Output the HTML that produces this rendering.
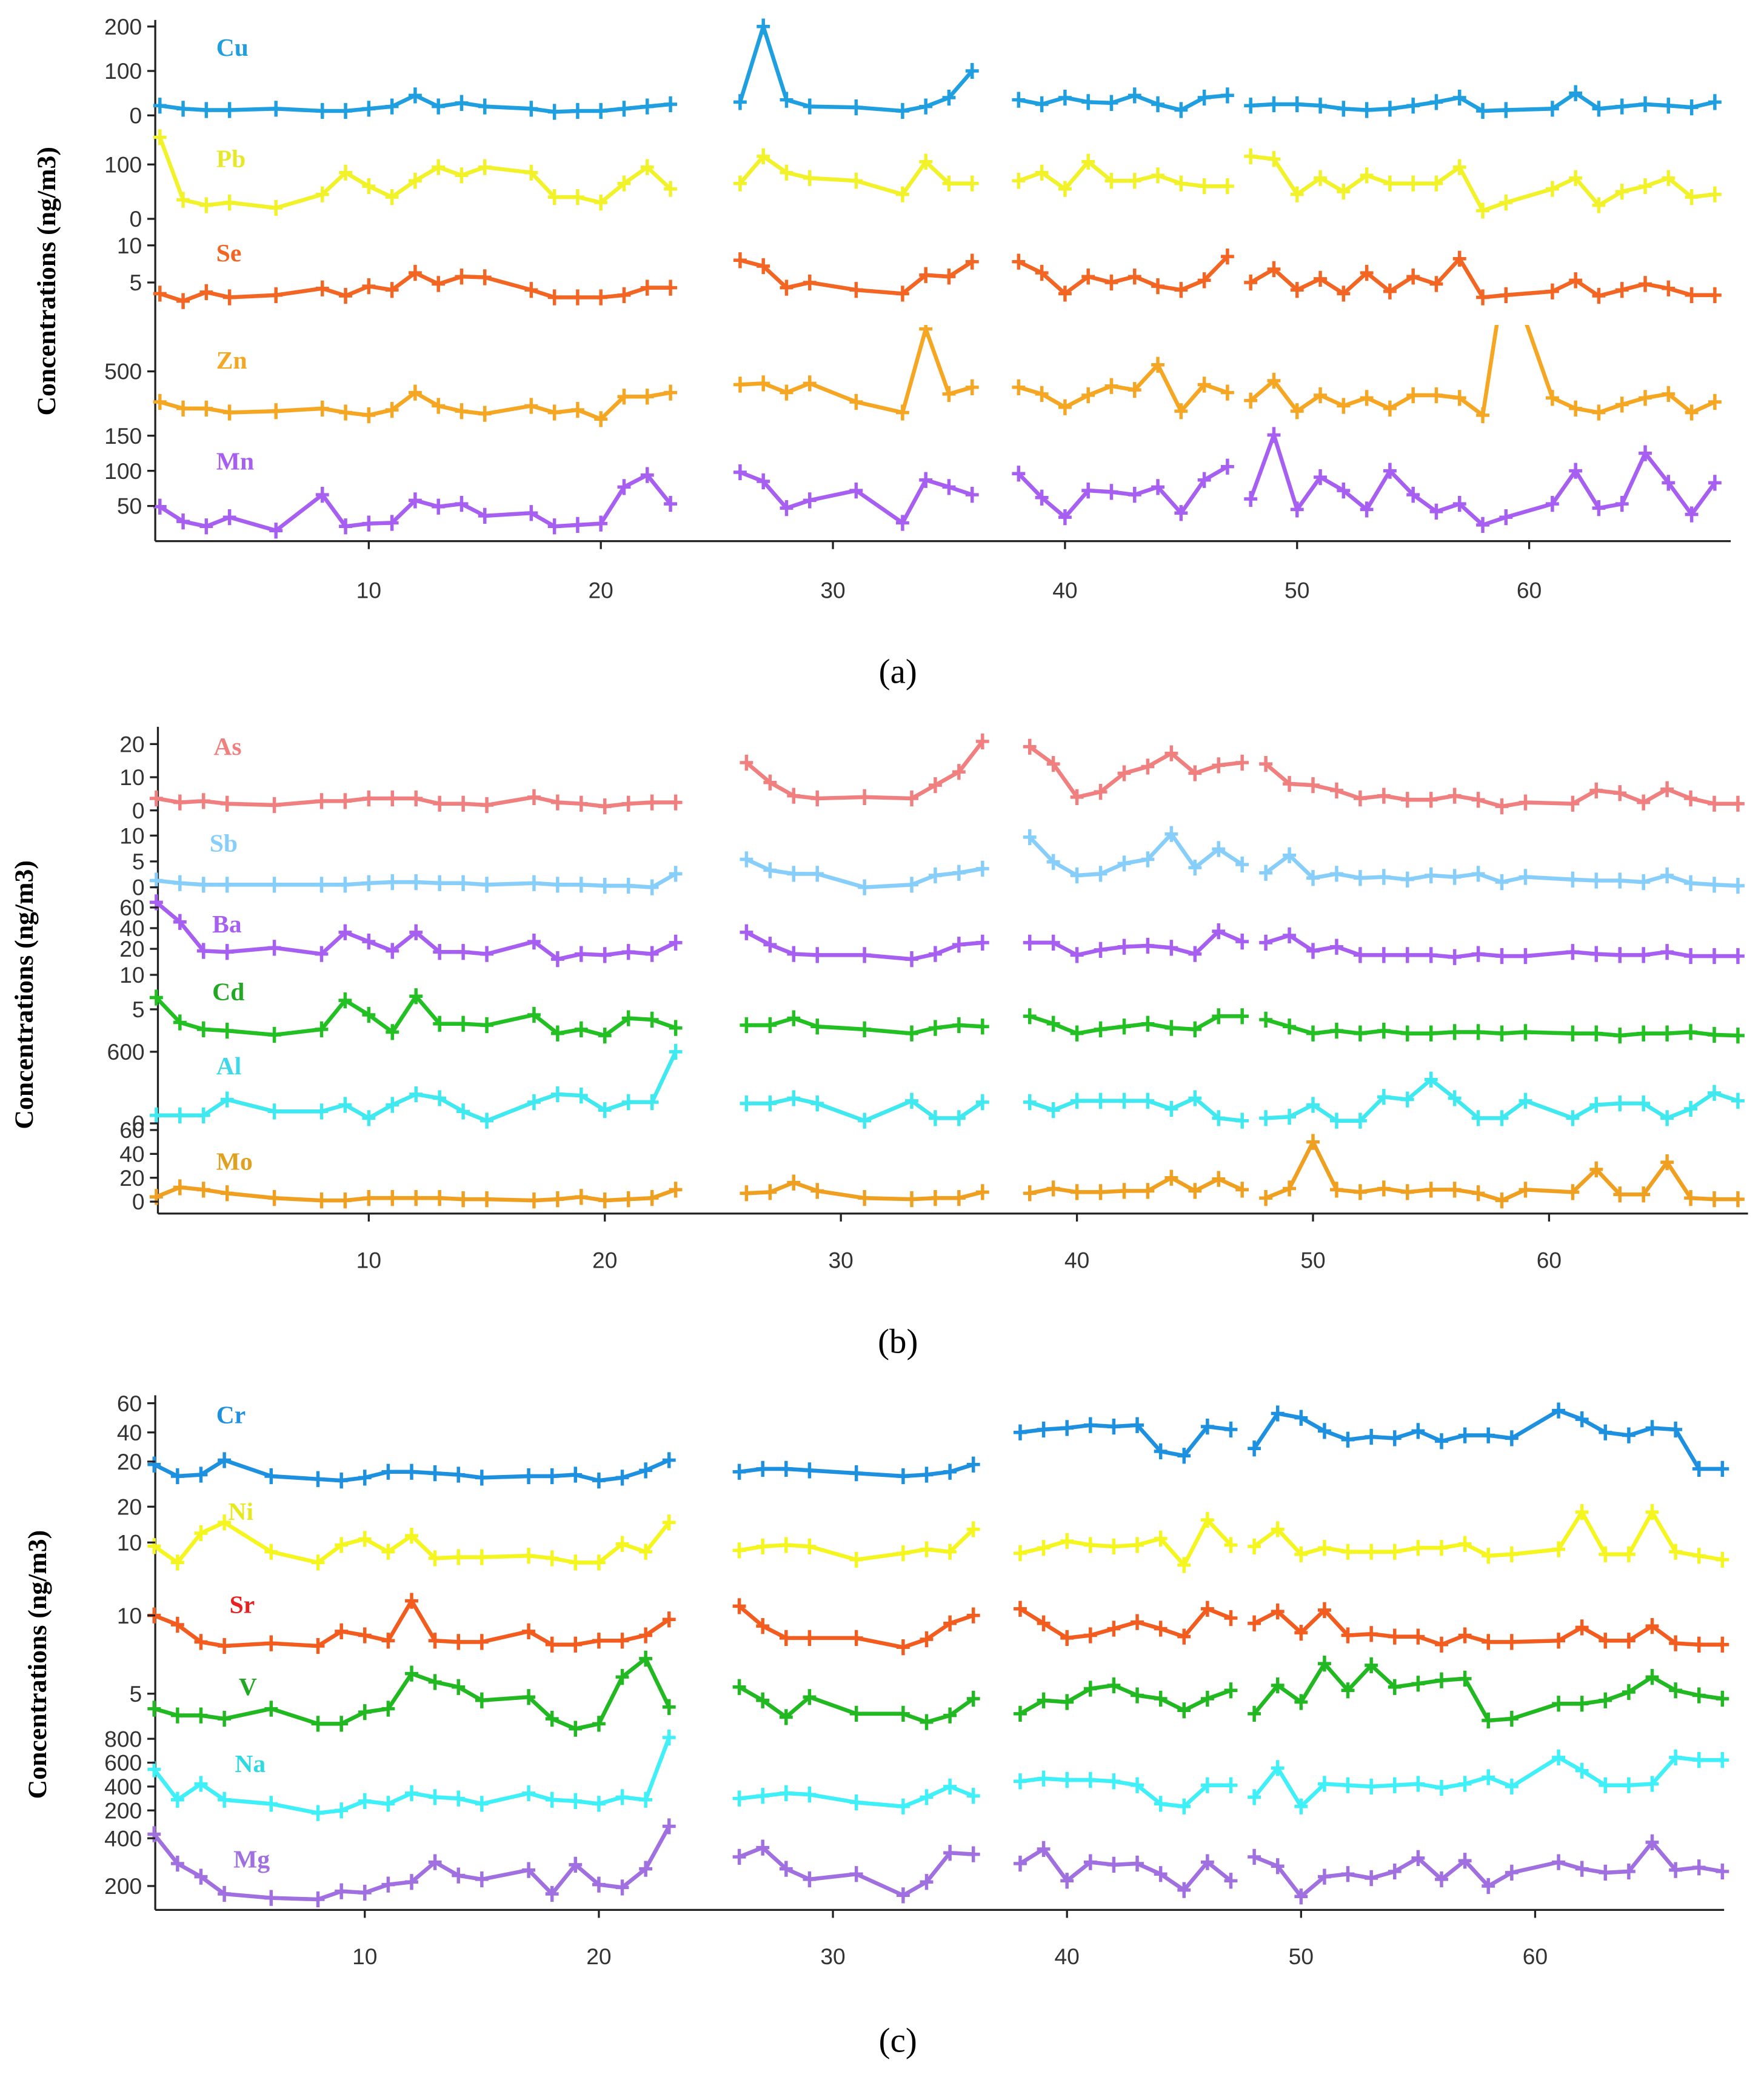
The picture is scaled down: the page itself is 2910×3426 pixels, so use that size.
<!DOCTYPE html>
<html><head><meta charset="utf-8"><style>
html,body{margin:0;padding:0;background:#fff}
svg{display:block}
text{font-family:"Liberation Sans",sans-serif}
.lab{font-family:"Liberation Serif",serif;font-weight:bold;font-size:19px}
.tk{font-size:17px;fill:#333}
.ttl{font-family:"Liberation Serif",serif;font-weight:bold;font-size:20px;fill:#000}
.cap{font-family:"Liberation Serif",serif;font-size:26px;fill:#000}
</style></head><body>
<svg id="chart" xmlns="http://www.w3.org/2000/svg" width="2910" height="3426" viewBox="0 0 1330 1566">
<defs><clipPath id="znclip"><rect x="0" y="245" width="1330" height="200"/></clipPath></defs>
<g id="root"></g>
</svg>
<script>
const days=[1,2,3,4,6,8,9,10,11,12,13,14,15,17,18,19,20,21,22,23, 26,27,28,29,31,33,34,35,36, 38,39,40,41,42,43,44,45,46,47, 48,49,50,51,52,53,54,55,56,57,58,59,61,62,63,64,65,66,67,68];
const segmentStarts=[1,26,38,48];
const xTicks=[10,20,30,40,50,60];
// panel a
const cu=[22,15,12,12,15,10,10,15,20,45,20,28,20,15,8,10,10,15,20,25, 30,200,35,20,18,10,20,40,100, 35,25,40,30,28,45,25,12,40,45, 22,25,25,22,15,12,15,22,30,40,10,12,15,50,15,20,25,22,18,30];
const pb=[150,35,25,30,20,45,85,60,40,70,95,80,95,85,40,40,30,65,95,55, 65,115,85,75,70,45,105,65,65, 70,85,55,105,70,70,80,65,60,60, 115,110,45,75,50,80,65,65,65,95,15,30,55,75,25,50,60,75,40,45];
const se=[3.5,2.5,3.7,3,3.3,4.2,3.2,4.5,4,6.3,4.8,5.8,5.7,4,3,3,3,3.3,4.3,4.3, 8,7.2,4.3,5,4,3.5,6,5.8,7.8, 7.8,6.3,3.5,5.8,5,5.8,4.5,4,5.3,8.5, 5,6.8,4,5.5,3.5,6.3,3.8,5.8,4.8,8.2,3,3.3,3.8,5.3,3.2,4,4.8,4.2,3.3,3.3];
const zn=[212,150,150,112,125,150,112,87,137,300,175,125,100,175,112,137,50,262,262,300, 375,387,300,387,212,112,900,287,350, 350,287,162,275,362,325,562,125,375,300, 225,412,125,275,175,250,150,275,275,250,87,1500,250,150,112,187,250,287,112,212];
const mn=[49,28,21,34,15,66,21,25,26,58,49,53,36,40,21,23,25,77,94,53, 98,85,47,58,72,26,87,77,66, 96,62,34,72,70,66,77,40,87,106, 60,151,45,91,72,45,100,66,42,53,23,34,53,100,47,53,125,83,38,83];
// panel b
const as=[3.6,2.4,2.8,2,1.6,2.8,2.8,3.6,3.6,3.6,2,2,1.6,4,2.4,2,1.2,2,2.4,2.4, 14.4,8.4,4.4,3.6,4,3.6,7.6,11.6,20.8, 19.2,14,4,5.6,11.2,13.2,17.2,11.2,13.6,14.4, 14,8,7.6,6,3.6,4.4,3.2,3.2,4.4,3.2,1.2,2.4,2,6,5.2,2.4,6.4,3.6,2,2];
const sb=[1.3,0.8,0.5,0.5,0.5,0.5,0.5,0.8,1,1,0.8,0.8,0.5,0.8,0.5,0.5,0.3,0.3,0,2.6, 5.4,3.3,2.6,2.6,0,0.5,2.3,2.8,3.6, 9.7,4.9,2.3,2.6,4.6,5.4,10.3,3.8,7.4,4.4, 2.8,6.2,1.8,2.6,1.8,2,1.5,2.3,2,2.6,1,2,1.5,1.3,1.3,1,2.3,0.8,0.5,0.3];
const ba=[65,46,18,17,21,15,36,27,18,36,17,17,15,27,10,15,14,17,15,26, 36,24,15,14,14,10,15,24,26, 26,26,14,19,22,23,21,15,37,27, 26,33,18,22,14,14,14,14,12,15,13,13,17,15,14,14,17,13,13,13];
const cd=[6.7,3.1,2.1,1.9,1.3,2.1,6.3,4.2,1.7,6.9,2.9,2.9,2.7,4.2,1.5,2.1,1.2,3.7,3.5,2.3, 2.7,2.7,3.7,2.5,2.1,1.5,2.3,2.7,2.5, 4,2.9,1.5,2.1,2.5,2.9,2.3,2.1,4,4, 3.5,2.5,1.5,1.9,1.5,1.9,1.5,1.5,1.7,1.7,1.5,1.7,1.5,1.5,1.2,1.5,1.5,1.7,1.3,1.2];
const al=[67,67,67,200,100,100,155,44,155,244,211,100,22,178,244,233,111,178,178,600, 167,167,211,167,22,189,44,44,178, 178,111,189,189,189,189,122,211,44,22, 44,55,155,22,22,222,200,367,211,44,44,189,44,155,167,167,44,122,255,189];
const mo=[4,12,10,7,3,1,1,3,3,3,3,2,2,1,2,4,1,2,3,10, 7,8,16,9,3,2,3,3,8, 7,11,8,8,9,9,20,9,19,10, 3,11,50,10,8,11,8,10,10,7,1,10,8,27,6,6,33,3,2,2];
// panel c
const cr=[18,10,11,21,10,8,7,9,13,13,12,11,9,10,10,11,7,9,14,21, 13,15,15,14,12,10,11,13,18, 40,42,43,45,44,45,27,24,44,42, 29,53,50,41,35,37,36,41,34,38,38,36,55,49,40,38,43,42,15,15];
const ni=[9,4.4,12.6,15.6,7.4,4.4,9.3,11,7.4,11.9,5.6,5.9,5.9,6.3,5.6,4.4,4.4,9.6,7.4,15.6, 7.8,8.9,9.3,8.9,5.2,7,8.1,7.4,13.7, 7,8.5,10.4,9.3,8.9,9.3,11.1,3.7,16.3,9.3, 8.9,13.7,6.7,8.5,7.4,7.4,7.4,8.5,8.5,9.6,6.3,6.7,8.1,18.5,6.7,6.7,18.5,7.4,6.3,5.2];
const sr=[10,8.25,5,4.25,4.75,4.25,7,6.25,5.25,12.75,5.25,5,5,7,4.5,4.5,5.25,5.25,6.25,9.25, 11.75,8,5.75,5.75,5.75,4,5.5,8.5,10, 11.25,8.5,5.75,6.25,7.5,8.75,7.5,6,11.25,9.5, 8.5,10.75,6.75,11,6.25,6.5,6,6,4.5,6.25,5,5,5.25,7.75,5.25,5.25,8,4.75,4.5,4.5];
const v=[4.1,3.7,3.7,3.5,4.1,3.2,3.2,3.9,4.1,6.2,5.7,5.4,4.6,4.8,3.5,2.9,3.2,6,7.1,4.2, 5.4,4.6,3.6,4.8,3.8,3.8,3.3,3.7,4.7, 3.8,4.6,4.5,5.3,5.5,4.9,4.7,4,4.7,5.2, 3.8,5.5,4.5,6.8,5.2,6.7,5.4,5.6,5.8,5.9,3.4,3.5,4.4,4.4,4.6,5.1,6,5.2,4.9,4.7];
const na=[544,289,422,289,255,178,200,278,255,344,311,300,255,344,289,278,255,311,289,811, 300,322,344,333,267,233,311,400,322, 444,467,455,455,444,411,255,233,411,411, 311,555,233,422,411,400,411,422,389,422,478,400,644,533,411,411,422,644,622,622];
const mg=[417,294,239,167,150,144,178,172,206,217,300,244,228,267,167,289,206,194,272,450, 322,361,272,228,250,161,217,339,333, 294,355,222,300,289,294,250,183,300,222, 322,283,156,239,250,233,261,317,228,306,200,256,300,272,256,261,383,267,278,261];
// tick labels
const cuTicks=[0,100,200], pbTicks=[0,100], seTicks=[5,10], znTicks=[500], mnTicks=[50,100,150];
const asTicks=[0,10,20], sbTicks=[0,5,10], baTicks=[20,40,60], cdTicks=[5,10], alTicks=[0,600], moTicks=[0,20,40,60];
const crTicks=[20,40,60], niTicks=[10,20], srTicks=[10], vTicks=[5], naTicks=[200,400,600,800], mgTicks=[200,400];

const NS="http://www.w3.org/2000/svg";
const root=document.getElementById('root');
function mk(tag,attrs,parent){const e=document.createElementNS(NS,tag);for(const k in attrs)e.setAttribute(k,attrs[k]);(parent||root).appendChild(e);return e;}

const panels=[
 {id:'a',x10:278,dx:17.5,xAxisY:408,top:15,axisX:117,xEnd:1305,titleX:37,titleY:212,cap:'(a)',capY:515,tickLabY:451,series:[
  {n:'Cu',d:cu,t:cuTicks,y0:87,k:0.335,c:'#1f9fe0',lc:'#1f9fe0',lx:163,ly:42},
  {n:'Pb',d:pb,t:pbTicks,y0:165,k:0.41,c:'#f2f22a',lc:'#e8e82a',lx:163,ly:126},
  {n:'Se',d:se,t:seTicks,y0:241,k:5.6,c:'#f26522',lc:'#f26522',lx:163,ly:197},
  {n:'Zn',d:zn,t:znTicks,y0:320,k:0.08,c:'#f5a623',lc:'#f5a623',lx:163,ly:278,clip:true},
  {n:'Mn',d:mn,t:mnTicks,y0:408,k:0.53,c:'#a65ff0',lc:'#a65ff0',lx:163,ly:354}]},
 {id:'b',x10:278,dx:17.8,xAxisY:915,top:548,axisX:119,xEnd:1318,titleX:20,titleY:750,cap:'(b)',capY:1020,tickLabY:956,series:[
  {n:'As',d:as,t:asTicks,y0:611,k:2.5,c:'#f08080',lc:'#f08080',lx:161,ly:569},
  {n:'Sb',d:sb,t:sbTicks,y0:669,k:3.9,c:'#87cefa',lc:'#87cefa',lx:158,ly:642},
  {n:'Ba',d:ba,t:baTicks,y0:731,k:0.78,c:'#a65ff0',lc:'#a65ff0',lx:160,ly:703},
  {n:'Cd',d:cd,t:cdTicks,y0:787,k:5.2,c:'#22c022',lc:'#22a822',lx:160,ly:754},
  {n:'Al',d:al,t:alTicks,y0:847,k:0.09,c:'#40e8f0',lc:'#40d8e8',lx:163,ly:810},
  {n:'Mo',d:mo,t:moTicks,y0:906,k:0.9,c:'#f0a020',lc:'#e0a020',lx:163,ly:882}]},
 {id:'c',x10:275,dx:17.65,xAxisY:1440,top:1052,axisX:117,xEnd:1300,titleX:30,titleY:1255,cap:'(c)',capY:1547,tickLabY:1481,series:[
  {n:'Cr',d:cr,t:crTicks,y0:1124,k:1.1,c:'#1e90e0',lc:'#1e90e0',lx:163,ly:1073},
  {n:'Ni',d:ni,t:niTicks,y0:1190,k:2.7,c:'#f5f520',lc:'#e8e820',lx:172,ly:1146},
  {n:'Sr',d:sr,t:srTicks,y0:1258,k:4,c:'#f25c1e',lc:'#e82020',lx:173,ly:1216},
  {n:'V',d:v,t:vTicks,y0:1340,k:12.6,c:'#22b822',lc:'#22a822',lx:180,ly:1278},
  {n:'Na',d:na,t:naTicks,y0:1383,k:0.09,c:'#40f0f8',lc:'#30d8e0',lx:177,ly:1336},
  {n:'Mg',d:mg,t:mgTicks,y0:1458,k:0.18,c:'#a070e0',lc:'#a070e0',lx:176,ly:1408}]}
];

panels.forEach(p=>{
  const g=mk('g',{});
  
  
  const xs=d=>p.x10+(d-10)*p.dx;
  // axes
  const ya=mk('line',{x1:p.axisX,y1:p.top,x2:p.axisX,y2:p.xAxisY,stroke:'#222','stroke-width':1.5},g);
  
  
  const xa=mk('line',{x1:p.axisX,y1:p.xAxisY,x2:p.xEnd,y2:p.xAxisY,stroke:'#222','stroke-width':1.5},g);
  
  
  xTicks.forEach(t=>{
    const x=xs(t);
    mk('line',{x1:x,y1:p.xAxisY,x2:x,y2:p.xAxisY+6,stroke:'#222','stroke-width':1.5},g);
    const tl=mk('text',{x:x,y:p.tickLabY,'text-anchor':'middle',class:'tk'},g);
    tl.textContent=t;
    
    
  });
  const tt=mk('text',{x:p.titleX,y:p.titleY,'text-anchor':'middle',class:'ttl',transform:`rotate(-90 ${p.titleX} ${p.titleY})`,'dominant-baseline':'middle'},g);
  tt.textContent='Concentrations (ng/m3)';
  
  
  const cp=mk('text',{x:677,y:p.capY,'text-anchor':'middle',class:'cap'},g);
  cp.textContent=p.cap;
  
  

  p.series.forEach(s=>{
    const sg=mk('g',s.clip?{'clip-path':'url(#znclip)'}:{},g);
    
    
    const ys=val=>s.y0-val*s.k;
    s.t.forEach(t=>{
      const y=ys(t);
      mk('line',{x1:p.axisX-6,y1:y,x2:p.axisX,y2:y,stroke:'#222','stroke-width':1.5},g);
      const tl=mk('text',{x:p.axisX-10,y:y+6,'text-anchor':'end',class:'tk'},g);
      tl.textContent=t;
      
      
    });
    let pts=[];const segs=[];
    days.forEach((d,i)=>{
      if(segmentStarts.includes(d)&&pts.length){segs.push(pts);pts=[];}
      pts.push([xs(d),ys(s.d[i])]);
    });
    segs.push(pts);
    segs.forEach(sp=>{
      const pl=mk('polyline',{points:sp.map(q=>q.join(',')).join(' '),fill:'none',stroke:s.c,'stroke-width':3,'stroke-linejoin':'round'},sg);
      
      
      sp.forEach(q=>{
        const m=mk('path',{d:`M${q[0]-5},${q[1]}h10M${q[0]},${q[1]-6}v12`,stroke:s.c,'stroke-width':2.5},sg);
        
        
      });
    });
    const lb=mk('text',{x:s.lx,y:s.ly,class:'lab',fill:s.lc},g);
    lb.textContent=s.n;
    
    
  });
});
</script>
</body></html>
